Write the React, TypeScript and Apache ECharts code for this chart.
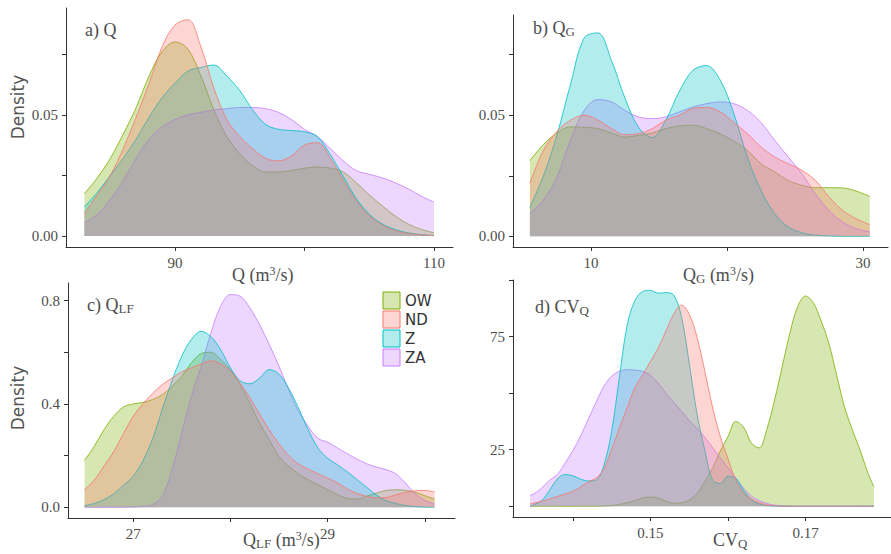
import React, { useEffect, useRef } from "react";
import * as echarts from "echarts";

const groups = ["OW", "ND", "Z", "ZA"];
const colors = ["#7CAE00", "#F8766D", "#00BFC4", "#C77CFF"];
const fills = ["rgba(124,174,0,0.3)", "rgba(248,118,109,0.3)", "rgba(0,191,196,0.3)", "rgba(199,124,255,0.3)"];
// drawing order of the filled densities (bottom to top)
const drawOrder = [0, 3, 2, 1];

// Panel a: Q (m3/s)
const qX = [83, 84, 85, 86, 87, 88, 89, 90, 91, 92, 93, 94, 95, 96, 97, 98, 99, 100, 101, 102, 103, 104, 105, 106, 107, 108, 109, 110];
const qOW = [0.0175, 0.024, 0.032, 0.042, 0.053, 0.066, 0.076, 0.080, 0.077, 0.066, 0.052, 0.041, 0.034, 0.029, 0.0264, 0.0264, 0.027, 0.028, 0.0285, 0.028, 0.0264, 0.022, 0.017, 0.0125, 0.0083, 0.005, 0.0028, 0.0014];
const qND = [0.0094, 0.017, 0.025, 0.036, 0.049, 0.063, 0.078, 0.087, 0.0892, 0.078, 0.061, 0.048, 0.041, 0.036, 0.032, 0.031, 0.033, 0.0375, 0.0385, 0.032, 0.023, 0.0145, 0.0085, 0.0046, 0.0023, 0.0011, 0.0005, 0.0002];
const qZ = [0.012, 0.018, 0.025, 0.032, 0.040, 0.049, 0.057, 0.063, 0.068, 0.0695, 0.0705, 0.066, 0.060, 0.052, 0.046, 0.044, 0.0435, 0.043, 0.041, 0.0335, 0.0245, 0.0155, 0.009, 0.005, 0.0027, 0.0013, 0.0006, 0.0002];
const qZA = [0.0055, 0.009, 0.015, 0.023, 0.032, 0.040, 0.045, 0.048, 0.050, 0.051, 0.052, 0.0525, 0.053, 0.053, 0.0525, 0.051, 0.048, 0.044, 0.041, 0.036, 0.031, 0.027, 0.0255, 0.024, 0.022, 0.0195, 0.0165, 0.014];

// Panel b: QG (m3/s)
const gX = [5.5, 6.5, 7.5, 8.5, 9.5, 10.5, 11.5, 12.5, 13.5, 14.5, 15.5, 16.5, 17.5, 18.5, 19.5, 20.5, 21.5, 22.5, 23.5, 24.5, 25.5, 26.5, 27.5, 28.5, 29.5, 30.5];
const gOW = [0.0313, 0.0379, 0.0427, 0.0452, 0.045, 0.0445, 0.0427, 0.041, 0.0417, 0.0427, 0.0445, 0.0456, 0.0459, 0.0445, 0.0423, 0.0393, 0.0355, 0.030, 0.0266, 0.0231, 0.0211, 0.0201, 0.0201, 0.020, 0.0187, 0.0165];
const gND = [0.022, 0.0355, 0.0434, 0.048, 0.050, 0.048, 0.0445, 0.042, 0.0424, 0.0445, 0.048, 0.050, 0.0528, 0.0532, 0.0514, 0.047, 0.0424, 0.0369, 0.0328, 0.030, 0.0273, 0.0231, 0.0163, 0.0107, 0.0073, 0.0048];
const gZ = [0.012, 0.025, 0.042, 0.063, 0.082, 0.084, 0.0727, 0.057, 0.045, 0.0408, 0.048, 0.060, 0.0686, 0.0705, 0.0645, 0.0507, 0.0328, 0.019, 0.0094, 0.0039, 0.0015, 0.0005, 0.0002, 0, 0, 0];
const gZA = [0.0094, 0.015, 0.0245, 0.040, 0.052, 0.0565, 0.0555, 0.052, 0.0493, 0.0486, 0.0493, 0.0514, 0.0534, 0.0548, 0.0555, 0.0548, 0.052, 0.047, 0.0397, 0.0328, 0.0259, 0.0176, 0.0107, 0.0059, 0.0032, 0.0018];

// Panel c: QLF (m3/s)
const lX = [26.5, 26.6, 26.7, 26.8, 26.9, 27.0, 27.1, 27.2, 27.3, 27.4, 27.5, 27.6, 27.7, 27.8, 27.9, 28.0, 28.1, 28.2, 28.3, 28.4, 28.5, 28.6, 28.7, 28.8, 28.9, 29.0, 29.1, 29.2, 29.3, 29.4, 29.5, 29.6, 29.7, 29.8, 29.9, 30.0, 30.1];
const lOW = [0.182, 0.236, 0.30, 0.352, 0.388, 0.40, 0.406, 0.417, 0.436, 0.468, 0.507, 0.559, 0.595, 0.60, 0.572, 0.533, 0.475, 0.404, 0.326, 0.262, 0.197, 0.159, 0.13, 0.107, 0.088, 0.068, 0.049, 0.035, 0.032, 0.043, 0.055, 0.065, 0.068, 0.066, 0.058, 0.045, 0.032];
const lND = [0.068, 0.105, 0.16, 0.215, 0.285, 0.352, 0.40, 0.44, 0.475, 0.50, 0.524, 0.54, 0.555, 0.567, 0.555, 0.527, 0.48, 0.425, 0.36, 0.30, 0.245, 0.2, 0.168, 0.148, 0.13, 0.113, 0.095, 0.072, 0.054, 0.043, 0.037, 0.038, 0.048, 0.058, 0.064, 0.065, 0.06];
const lZ = [0.006, 0.015, 0.03, 0.052, 0.085, 0.12, 0.18, 0.265, 0.38, 0.49, 0.585, 0.65, 0.681, 0.66, 0.61, 0.54, 0.49, 0.478, 0.50, 0.533, 0.515, 0.46, 0.385, 0.30, 0.23, 0.19, 0.165, 0.138, 0.108, 0.078, 0.048, 0.026, 0.015, 0.007, 0.003, 0.001, 0.0];
const lZA = [0, 0, 0, 0, 0, 0.001, 0.004, 0.01, 0.043, 0.146, 0.288, 0.43, 0.546, 0.675, 0.778, 0.823, 0.817, 0.772, 0.707, 0.63, 0.546, 0.455, 0.372, 0.313, 0.267, 0.252, 0.23, 0.208, 0.187, 0.169, 0.156, 0.146, 0.13, 0.094, 0.053, 0.026, 0.013];

// Panel d: CVQ
const vX = [0.1345, 0.135, 0.136, 0.137, 0.138, 0.139, 0.140, 0.141, 0.142, 0.143, 0.144, 0.145, 0.146, 0.147, 0.148, 0.149, 0.150, 0.151, 0.152, 0.153, 0.154, 0.155, 0.156, 0.157, 0.158, 0.159, 0.160, 0.161, 0.162, 0.163, 0.164, 0.165, 0.166, 0.167, 0.168, 0.169, 0.170, 0.171, 0.172, 0.173, 0.174, 0.175, 0.176, 0.177, 0.178, 0.1788];
const vOW = [0, 0, 0, 0, 0, 0, 0, 0, 0, 0, 0.1, 0.3, 0.8, 1.5, 2.5, 3.6, 4.1, 3.6, 2.3, 1.3, 1.5, 2.7, 5.6, 10.8, 16.7, 24.4, 30.8, 37.5, 35, 28, 25.8, 34, 47, 62, 77, 88.5, 93, 90, 82, 72, 58, 44, 34, 25, 15, 8.6];
const vND = [1.0, 1.4, 2.2, 3.2, 4.3, 5.4, 6.6, 8.5, 10.8, 12.5, 16.5, 25, 34.5, 43.5, 52.5, 58, 64, 70, 77.5, 85, 89, 85, 75, 60, 44, 31, 21, 11.6, 6, 3.2, 1.5, 0.6, 0.2, 0, 0, 0, 0, 0, 0, 0, 0, 0, 0, 0, 0, 0];
const vZ = [0, 0.7, 2.5, 7, 12, 14, 13.5, 12, 11.2, 11.5, 18, 33, 57, 80, 91, 95, 95.5, 94.3, 94.5, 93.5, 84, 63.4, 41, 25, 11.6, 10, 13.3, 12.3, 7, 3, 1, 0.3, 0.1, 0, 0, 0, 0, 0, 0, 0, 0, 0, 0, 0, 0, 0];
const vZA = [4.9, 5.5, 8, 11.5, 14, 19, 24.5, 31, 38.5, 46, 53, 57.5, 59.7, 60.4, 60.2, 59.7, 58, 54.5, 50, 46, 42, 38, 34.5, 30.5, 26, 21.5, 17, 12.5, 8, 4.5, 2.5, 1.2, 0.5, 0.2, 0, 0, 0, 0, 0, 0, 0, 0, 0, 0, 0, 0];

const serif = "Liberation Serif";
const sans = "DejaVu Sans";
const txtColor = "#4D4D4D";

const richStyles = {
  m: { fontSize: 18, fontFamily: serif, color: txtColor, lineHeight: 20, verticalAlign: "middle" },
  sb: { fontSize: 13, fontFamily: serif, color: txtColor, lineHeight: 13, verticalAlign: "bottom" },
  sp: { fontSize: 12, fontFamily: serif, color: txtColor, lineHeight: 12, verticalAlign: "top" },
};

function pts(xs: number[], ys: number[]) {
  return xs.map((x, i) => [x, ys[i]]);
}

const panels = [
  { xs: qX, ys: [qOW, qND, qZ, qZA] },
  { xs: gX, ys: [gOW, gND, gZ, gZA] },
  { xs: lX, ys: [lOW, lND, lZ, lZA] },
  { xs: vX, ys: [vOW, vND, vZ, vZA] },
];

const grids = [
  { left: 66, top: 8, width: 387, height: 239 },
  { left: 513, top: 15, width: 375, height: 232 },
  { left: 68, top: 283, width: 387, height: 235 },
  { left: 513, top: 280, width: 391, height: 237 },
];

const xCfg = [
  { min: 81.58, max: 111.47, ticks: [90, 100, 110], labels: [90, 110], fmt: (v: number) => String(v) },
  { min: 4.26, max: 31.84, ticks: [10, 20, 30], labels: [10, 30], fmt: (v: number) => String(v) },
  { min: 26.33, max: 30.31, ticks: [27, 28, 29, 30], labels: [27, 29], fmt: (v: number) => String(v) },
  { min: 0.1323, max: 0.181, ticks: [0.14, 0.15, 0.16, 0.17], labels: [0.15, 0.17], fmt: (v: number) => v.toFixed(2) },
];
const yCfg = [
  { min: -0.0045, max: 0.094, ticks: [0, 0.025, 0.05, 0.075], labels: [0, 0.05], fmt: (v: number) => v.toFixed(2) },
  { min: -0.0044, max: 0.0914, ticks: [0, 0.025, 0.05, 0.075], labels: [0, 0.05], fmt: (v: number) => v.toFixed(2) },
  { min: -0.0413, max: 0.868, ticks: [0, 0.2, 0.4, 0.6, 0.8], labels: [0, 0.4, 0.8], fmt: (v: number) => v.toFixed(1) },
  { min: -4.77, max: 100.1, ticks: [0, 25, 50, 75, 100], labels: [25, 75], fmt: (v: number) => String(Math.round(v)) },
];

function axisCommon() {
  return {
    axisLine: { show: true, onZero: false, lineStyle: { color: "#333", width: 1 } },
    splitLine: { show: false },
  };
}

export default function App() {
  const ref = useRef<HTMLDivElement>(null);
  useEffect(() => {
    if (!ref.current) return;
    const chart = echarts.init(ref.current, undefined, { renderer: "svg" });
    const xAxis = xCfg.map((c, i) => ({
      type: "value",
      gridIndex: i,
      min: c.min,
      max: c.max,
      ...axisCommon(),
      axisTick: { show: true, length: 4, customValues: c.ticks, lineStyle: { color: "#333" } },
      axisLabel: {
        show: true,
        customValues: c.labels,
        formatter: (v: number) => c.fmt(v),
        margin: 8,
        fontFamily: serif,
        fontSize: 15,
        color: txtColor,
      },
    }));
    const yAxis = yCfg.map((c, i) => ({
      type: "value",
      gridIndex: i,
      min: c.min,
      max: c.max,
      ...axisCommon(),
      axisTick: { show: true, length: 4, customValues: c.ticks, lineStyle: { color: "#333" } },
      axisLabel: {
        show: true,
        customValues: c.labels,
        formatter: (v: number) => c.fmt(v),
        margin: 8,
        fontFamily: serif,
        fontSize: 15,
        color: txtColor,
      },
    }));
    const series: any[] = [];
    panels.forEach((p, pi) => {
      drawOrder.forEach((gi, k) => {
        series.push({
          type: "line",
          name: groups[gi],
          xAxisIndex: pi,
          yAxisIndex: pi,
          data: pts(p.xs, p.ys[gi]),
          smooth: 0.35,
          symbol: "none",
          z: 2 + k,
          lineStyle: { color: colors[gi], width: 0.8 },
          itemStyle: { color: colors[gi] },
          areaStyle: { color: colors[gi], opacity: 0.3 },
        });
      });
    });

    const titleDefs = [
      { text: "{m|a) Q}", left: 85, top: 20 },
      { text: "{m|b) Q}{sb|G}", left: 533, top: 18 },
      { text: "{m|c) Q}{sb|LF}", left: 87, top: 295 },
      { text: "{m|d) CV}{sb|Q}", left: 535, top: 297 },
      { text: "{m|Q (m}{sp|3}{m|/s)}", left: 232, top: 265 },
      { text: "{m|Q}{sb|G}{m| (m}{sp|3}{m|/s)}", left: 683, top: 265 },
      { text: "{m|Q}{sb|LF}{m| (m}{sp|3}{m|/s)}", left: 243, top: 530 },
      { text: "{m|CV}{sb|Q}", left: 713, top: 530 },
    ];
    const title = titleDefs.map((t) => ({
      text: t.text,
      left: t.left,
      top: t.top,
      padding: 0,
      textStyle: { rich: richStyles, fontFamily: serif, fontSize: 18, color: txtColor, fontWeight: "normal" },
    }));

    const graphic: any[] = [];
    [107, 398].forEach((cy) => {
      graphic.push({
        type: "text",
        x: 17.5,
        y: cy,
        rotation: Math.PI / 2,
        silent: true,
        style: {
          text: "Density",
          fontSize: 17,
          fontFamily: sans,
          fill: "#555",
          align: "center",
          verticalAlign: "middle",
          textAlign: "center",
          textVerticalAlign: "middle",
        },
      });
    });
    groups.forEach((g, i) => {
      graphic.push({
        type: "rect",
        silent: true,
        shape: { x: 383, y: 292 + 19 * i, width: 17, height: 17 },
        style: { fill: fills[i], stroke: colors[i], lineWidth: 1 },
      });
      graphic.push({
        type: "text",
        silent: true,
        x: 405,
        y: 300.5 + 19 * i,
        style: {
          text: g,
          fontSize: 15,
          fontFamily: sans,
          fill: "#333",
          align: "left",
          verticalAlign: "middle",
          textAlign: "left",
          textVerticalAlign: "middle",
        },
      });
    });

    chart.setOption({
      animation: false,
      backgroundColor: "#ffffff",
      title,
      grid: grids,
      xAxis,
      yAxis,
      series,
      graphic,
    });
    return () => chart.dispose();
  }, []);
  return (
    <div
      ref={ref}
      style={{ position: "fixed", left: 0, top: 0, width: 891, height: 554, background: "#fff" }}
    />
  );
}
